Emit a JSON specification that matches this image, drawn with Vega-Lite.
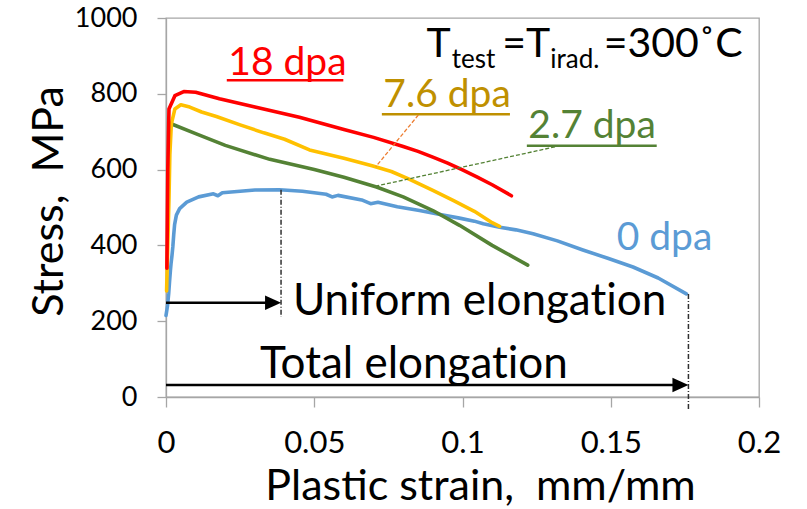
{
  "$schema": "https://vega.github.io/schema/vega-lite/v6.json",
  "autosize": {"type": "none"},
  "padding": {"left": 166, "top": 18, "right": 48, "bottom": 112},
  "width": 593,
  "height": 379,
  "config": {
    "font": "Lato",
    "view": {"stroke": "#A6A6A6", "strokeWidth": 1.3},
    "axis": {"grid": false, "domainColor": "#A6A6A6", "tickColor": "#A6A6A6", "domainWidth": 1.3, "tickWidth": 1.3, "labelColor": "#000000", "titleColor": "#000000", "labelFont": "Lato", "titleFont": "Lato", "titleFontWeight": "normal"}
  },
  "datasets": {
    "curves": [
      {"s": "0 dpa", "x": 0, "y": 215}, {"s": "0 dpa", "x": 0.0005, "y": 240}, {"s": "0 dpa", "x": 0.0009, "y": 272}, {"s": "0 dpa", "x": 0.0012, "y": 305}, {"s": "0 dpa", "x": 0.0015, "y": 335}, {"s": "0 dpa", "x": 0.0017, "y": 352}, {"s": "0 dpa", "x": 0.002, "y": 372}, {"s": "0 dpa", "x": 0.0023, "y": 396}, {"s": "0 dpa", "x": 0.0026, "y": 428}, {"s": "0 dpa", "x": 0.0029, "y": 455}, {"s": "0 dpa", "x": 0.0035, "y": 480}, {"s": "0 dpa", "x": 0.0046, "y": 497}, {"s": "0 dpa", "x": 0.007, "y": 514}, {"s": "0 dpa", "x": 0.011, "y": 528}, {"s": "0 dpa", "x": 0.016, "y": 536}, {"s": "0 dpa", "x": 0.0175, "y": 531}, {"s": "0 dpa", "x": 0.019, "y": 539}, {"s": "0 dpa", "x": 0.025, "y": 543}, {"s": "0 dpa", "x": 0.03, "y": 546}, {"s": "0 dpa", "x": 0.0383, "y": 547}, {"s": "0 dpa", "x": 0.046, "y": 543}, {"s": "0 dpa", "x": 0.054, "y": 535}, {"s": "0 dpa", "x": 0.056, "y": 528}, {"s": "0 dpa", "x": 0.058, "y": 532}, {"s": "0 dpa", "x": 0.066, "y": 520}, {"s": "0 dpa", "x": 0.069, "y": 510}, {"s": "0 dpa", "x": 0.0715, "y": 514}, {"s": "0 dpa", "x": 0.078, "y": 502}, {"s": "0 dpa", "x": 0.0855, "y": 492}, {"s": "0 dpa", "x": 0.092, "y": 482}, {"s": "0 dpa", "x": 0.099, "y": 472}, {"s": "0 dpa", "x": 0.104, "y": 464}, {"s": "0 dpa", "x": 0.107, "y": 457}, {"s": "0 dpa", "x": 0.1125, "y": 448}, {"s": "0 dpa", "x": 0.118, "y": 441}, {"s": "0 dpa", "x": 0.1238, "y": 431}, {"s": "0 dpa", "x": 0.132, "y": 412}, {"s": "0 dpa", "x": 0.1406, "y": 388}, {"s": "0 dpa", "x": 0.149, "y": 366}, {"s": "0 dpa", "x": 0.1575, "y": 343}, {"s": "0 dpa", "x": 0.166, "y": 314}, {"s": "0 dpa", "x": 0.1755, "y": 272},
      {"s": "2.7 dpa", "x": 0.0017, "y": 721}, {"s": "2.7 dpa", "x": 0.01, "y": 695}, {"s": "2.7 dpa", "x": 0.02, "y": 664}, {"s": "2.7 dpa", "x": 0.035, "y": 627}, {"s": "2.7 dpa", "x": 0.05, "y": 600}, {"s": "2.7 dpa", "x": 0.06, "y": 580}, {"s": "2.7 dpa", "x": 0.071, "y": 554}, {"s": "2.7 dpa", "x": 0.08, "y": 528}, {"s": "2.7 dpa", "x": 0.09, "y": 492}, {"s": "2.7 dpa", "x": 0.099, "y": 453}, {"s": "2.7 dpa", "x": 0.11, "y": 400}, {"s": "2.7 dpa", "x": 0.122, "y": 348},
      {"s": "7.6 dpa", "x": 0.0002, "y": 280}, {"s": "7.6 dpa", "x": 0.0006, "y": 400}, {"s": "7.6 dpa", "x": 0.001, "y": 520}, {"s": "7.6 dpa", "x": 0.0013, "y": 640}, {"s": "7.6 dpa", "x": 0.0018, "y": 720}, {"s": "7.6 dpa", "x": 0.003, "y": 760}, {"s": "7.6 dpa", "x": 0.005, "y": 771}, {"s": "7.6 dpa", "x": 0.008, "y": 765}, {"s": "7.6 dpa", "x": 0.012, "y": 752}, {"s": "7.6 dpa", "x": 0.017, "y": 740}, {"s": "7.6 dpa", "x": 0.025, "y": 718}, {"s": "7.6 dpa", "x": 0.033, "y": 697}, {"s": "7.6 dpa", "x": 0.04, "y": 680}, {"s": "7.6 dpa", "x": 0.0484, "y": 652}, {"s": "7.6 dpa", "x": 0.06, "y": 630}, {"s": "7.6 dpa", "x": 0.0695, "y": 610}, {"s": "7.6 dpa", "x": 0.076, "y": 595}, {"s": "7.6 dpa", "x": 0.082, "y": 575}, {"s": "7.6 dpa", "x": 0.09, "y": 545}, {"s": "7.6 dpa", "x": 0.097, "y": 518}, {"s": "7.6 dpa", "x": 0.104, "y": 490}, {"s": "7.6 dpa", "x": 0.11, "y": 460}, {"s": "7.6 dpa", "x": 0.1125, "y": 450},
      {"s": "18 dpa", "x": 0.0003, "y": 340}, {"s": "18 dpa", "x": 0.0006, "y": 600}, {"s": "18 dpa", "x": 0.001, "y": 760}, {"s": "18 dpa", "x": 0.003, "y": 795}, {"s": "18 dpa", "x": 0.006, "y": 806}, {"s": "18 dpa", "x": 0.01, "y": 804}, {"s": "18 dpa", "x": 0.018, "y": 787}, {"s": "18 dpa", "x": 0.03, "y": 765}, {"s": "18 dpa", "x": 0.045, "y": 738}, {"s": "18 dpa", "x": 0.06, "y": 706}, {"s": "18 dpa", "x": 0.07, "y": 685}, {"s": "18 dpa", "x": 0.08, "y": 661}, {"s": "18 dpa", "x": 0.085, "y": 648}, {"s": "18 dpa", "x": 0.09, "y": 633}, {"s": "18 dpa", "x": 0.095, "y": 617}, {"s": "18 dpa", "x": 0.1, "y": 599}, {"s": "18 dpa", "x": 0.105, "y": 580}, {"s": "18 dpa", "x": 0.11, "y": 560}, {"s": "18 dpa", "x": 0.1165, "y": 531}
    ],
    "labels": [
      {"label": "18 dpa", "x": 0.021, "y": 850},
      {"label": "7.6 dpa", "x": 0.0733, "y": 766},
      {"label": "2.7 dpa", "x": 0.1222, "y": 683},
      {"label": "0 dpa", "x": 0.152, "y": 388}
    ],
    "underlines": [
      {"label": "18 dpa", "x": 0.0205, "x2": 0.0598, "y": 836},
      {"label": "7.6 dpa", "x": 0.0728, "x2": 0.116, "y": 746},
      {"label": "2.7 dpa", "x": 0.1217, "x2": 0.1655, "y": 663}
    ],
    "leaderOrange": [{"x": 0.0851, "y": 744, "x2": 0.0708, "y2": 608}],
    "leaderGreen": [{"x": 0.1312, "y": 660, "x2": 0.0711, "y2": 557}],
    "arrows": [
      {"name": "uniform", "x": 0, "x2": 0.0375, "y": 248.5, "tip": 0.0388},
      {"name": "total", "x": 0, "x2": 0.1745, "y": 31.7, "tip": 0.1762}
    ],
    "markers": [
      {"name": "uniform", "x": 0.0388, "y": 547, "y2": 211},
      {"name": "total", "x": 0.1762, "y": 272, "y2": -32}
    ],
    "bigText": [
      {"t": "Uniform elongat\u200cion", "x": 0.0428, "y": 216},
      {"t": "Total elongat\u200cion", "x": 0.0317, "y": 49}
    ],
    "titleText": [
      {"t": "T", "x": 0.0879, "y": 898},
      {"t": "=T", "x": 0.1134, "y": 898},
      {"t": "=300˚C", "x": 0.1476, "y": 898}
    ],
    "subText": [
      {"t": "test", "x": 0.0964, "y": 867},
      {"t": "irad.", "x": 0.1296, "y": 867}
    ]
  },
  "resolve": {"scale": {"color": "independent"}},
  "layer": [
    {
      "data": {"name": "curves"},
      "mark": {"type": "line", "strokeWidth": 3.6, "strokeCap": "round", "strokeJoin": "round"},
      "encoding": {
        "x": {"field": "x", "type": "quantitative", "scale": {"domain": [0, 0.2], "nice": false},
          "axis": {"values": [0, 0.05, 0.1, 0.15, 0.2], "format": "~g", "tickSize": 10, "labelFontSize": 31, "labelPadding": 21, "labelFlush": false,
            "title": "Plastic strain, \u00a0mm/mm", "titleFontSize": 43, "titleX": 314, "titleY": 102, "titleAlign": "center", "titleBaseline": "alphabetic"}},
        "y": {"field": "y", "type": "quantitative", "scale": {"domain": [0, 1000], "nice": false},
          "axis": {"values": [0, 200, 400, 600, 800, 1000], "format": "d", "tickSize": 9, "labelFontSize": 27, "labelPadding": 20, "labelFlush": false,
            "title": "Stress, \u00a0MPa", "titleFontSize": 43, "titleX": -104, "titleY": 183, "titleAngle": -90, "titleAlign": "center", "titleBaseline": "alphabetic"}},
        "color": {"field": "s", "type": "nominal", "scale": {"domain": ["0 dpa", "2.7 dpa", "7.6 dpa", "18 dpa"], "range": ["#5B9BD5", "#548235", "#FFC000", "#FF0000"]}, "legend": null},
        "order": {"field": "x", "type": "quantitative"}
      }
    },
    {
      "data": {"name": "underlines"},
      "mark": {"type": "rule", "strokeWidth": 2.5},
      "encoding": {
        "x": {"field": "x", "type": "quantitative"},
        "x2": {"field": "x2"},
        "y": {"field": "y", "type": "quantitative"},
        "color": {"field": "label", "type": "nominal", "scale": {"domain": ["18 dpa", "7.6 dpa", "2.7 dpa", "0 dpa"], "range": ["#FF0000", "#BF9000", "#548235", "#5B9BD5"]}, "legend": null}
      }
    },
    {
      "data": {"name": "labels"},
      "mark": {"type": "text", "fontSize": 39, "align": "left", "baseline": "alphabetic"},
      "encoding": {
        "x": {"field": "x", "type": "quantitative"},
        "y": {"field": "y", "type": "quantitative"},
        "text": {"field": "label"},
        "color": {"field": "label", "type": "nominal", "scale": {"domain": ["18 dpa", "7.6 dpa", "2.7 dpa", "0 dpa"], "range": ["#FF0000", "#BF9000", "#548235", "#5B9BD5"]}, "legend": null}
      }
    },
    {
      "data": {"name": "leaderOrange"},
      "mark": {"type": "rule", "color": "#ED7D31", "strokeWidth": 1.3, "strokeDash": [4, 2]},
      "encoding": {
        "x": {"field": "x", "type": "quantitative"}, "y": {"field": "y", "type": "quantitative"},
        "x2": {"field": "x2"}, "y2": {"field": "y2"}
      }
    },
    {
      "data": {"name": "leaderGreen"},
      "mark": {"type": "rule", "color": "#548235", "strokeWidth": 1.3, "strokeDash": [4, 2]},
      "encoding": {
        "x": {"field": "x", "type": "quantitative"}, "y": {"field": "y", "type": "quantitative"},
        "x2": {"field": "x2"}, "y2": {"field": "y2"}
      }
    },
    {
      "data": {"name": "markers"},
      "mark": {"type": "rule", "color": "#303030", "strokeWidth": 1.5, "strokeDash": [5, 2, 1, 2]},
      "encoding": {
        "x": {"field": "x", "type": "quantitative"}, "y": {"field": "y", "type": "quantitative"},
        "y2": {"field": "y2"}
      }
    },
    {
      "data": {"name": "arrows"},
      "mark": {"type": "rule", "color": "#000000", "strokeWidth": 2.6},
      "encoding": {
        "x": {"field": "x", "type": "quantitative"}, "x2": {"field": "x2"},
        "y": {"field": "y", "type": "quantitative"}
      }
    },
    {
      "data": {"name": "arrows"},
      "mark": {"type": "point", "shape": "M0,0L-1,-0.45L-1,0.45Z", "size": 1024, "filled": true, "color": "#000000", "opacity": 1, "strokeWidth": 0},
      "encoding": {
        "x": {"field": "tip", "type": "quantitative"},
        "y": {"field": "y", "type": "quantitative"}
      }
    },
    {
      "data": {"name": "bigText"},
      "mark": {"type": "text", "fontSize": 44, "align": "left", "baseline": "alphabetic", "color": "#000000"},
      "encoding": {
        "x": {"field": "x", "type": "quantitative"},
        "y": {"field": "y", "type": "quantitative"},
        "text": {"field": "t"}
      }
    },
    {
      "data": {"name": "titleText"},
      "mark": {"type": "text", "fontSize": 41, "align": "left", "baseline": "alphabetic", "color": "#000000"},
      "encoding": {
        "x": {"field": "x", "type": "quantitative"},
        "y": {"field": "y", "type": "quantitative"},
        "text": {"field": "t"}
      }
    },
    {
      "data": {"name": "subText"},
      "mark": {"type": "text", "fontSize": 26, "align": "left", "baseline": "alphabetic", "color": "#000000"},
      "encoding": {
        "x": {"field": "x", "type": "quantitative"},
        "y": {"field": "y", "type": "quantitative"},
        "text": {"field": "t"}
      }
    }
  ]
}
